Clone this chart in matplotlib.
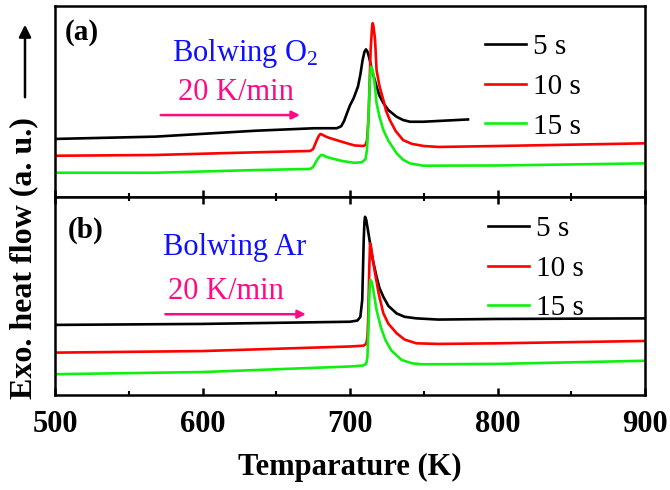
import matplotlib
matplotlib.use("Agg")
import matplotlib.pyplot as plt
from matplotlib.ticker import MultipleLocator

plt.rcParams['font.family'] = ['Liberation Serif', 'DejaVu Serif']
plt.rcParams['mathtext.fontset'] = 'custom'
plt.rcParams['mathtext.rm'] = 'Liberation Serif'
plt.rcParams['mathtext.it'] = 'Liberation Serif:italic'

# ---- DSC traces, blowing O2 (panel a) ----
o2_5s_T = [500, 568, 636, 676, 691, 694, 696, 698, 700, 702.5, 705.4, 707, 708.5, 709.8,
           710.8, 711.8, 713, 715, 716.5, 718, 720, 722.6, 726, 731.6, 736, 740.7, 749.6, 780]
o2_5s_y = [3.04, 3.16, 3.47, 3.60, 3.60, 3.70, 3.98, 4.40, 4.80, 5.18, 5.78, 6.40, 7.15, 7.60,
           7.73, 7.62, 7.30, 6.60, 6.20, 5.78, 5.30, 4.92, 4.55, 4.20, 4.03, 3.94, 3.94, 4.06]

o2_10s_T = [500, 568, 636, 673, 675, 677.5, 679, 680, 681.5, 684, 687, 695, 703, 709, 710.5,
            711.5, 712.5, 714, 715, 715.4, 715.9, 717, 718, 720, 722.6, 724.5, 727, 731, 736,
            742, 750, 760, 800, 900]
o2_10s_y = [2.16, 2.20, 2.34, 2.41, 2.51, 2.98, 3.22, 3.30, 3.25, 3.15, 3.07, 2.88, 2.70, 2.67,
            2.72, 2.95, 4.03, 7.70, 8.95, 9.10, 8.95, 8.22, 6.65, 5.80, 5.08, 4.50, 4.03, 3.45,
            2.98, 2.78, 2.67, 2.62, 2.67, 2.81]

o2_15s_T = [500, 568, 636, 673, 675, 678, 680, 680.8, 682, 684, 687, 695, 703, 708, 710.5,
            711.5, 712.5, 713.5, 714.2, 715, 716, 717, 718, 720, 722.6, 726, 731.6, 736,
            740.7, 749.6, 800, 900]
o2_15s_y = [1.27, 1.27, 1.41, 1.47, 1.57, 1.99, 2.17, 2.20, 2.18, 2.10, 2.03, 1.88, 1.79, 1.82,
            1.98, 2.46, 4.03, 6.20, 6.82, 6.70, 6.39, 5.70, 4.92, 4.20, 3.51, 2.95, 2.29, 1.95,
            1.76, 1.64, 1.65, 1.76]

# ---- DSC traces, blowing Ar (panel b) ----
ar_5s_T = [500, 600, 700, 705, 707, 708.3, 709.3, 709.8, 710.2, 711, 712, 713.6, 715.5, 718,
           720, 722.6, 726, 731.6, 737, 745, 760, 800, 900]
ar_5s_y = [3.54, 3.59, 3.70, 3.76, 3.94, 4.80, 7.83, 8.75, 9.00, 8.85, 8.40, 7.66, 6.80, 5.97,
           5.40, 4.96, 4.50, 4.12, 3.95, 3.87, 3.81, 3.84, 3.87]

ar_10s_T = [500, 600, 700, 709, 711, 711.8, 712.3, 713.1, 713.6, 714.2, 715, 717, 719.5, 722.6,
            726, 731.6, 737, 745, 760, 800, 900]
ar_10s_y = [2.14, 2.22, 2.45, 2.49, 2.58, 2.90, 3.79, 6.50, 7.66, 7.50, 7.07, 6.15, 5.10, 4.13,
            3.60, 3.12, 2.80, 2.61, 2.58, 2.61, 2.73]

ar_15s_T = [500, 600, 700, 709, 711, 711.8, 712.5, 713.2, 713.8, 714.5, 715.5, 718, 721, 724,
            728, 735, 742, 749, 800, 900]
ar_15s_y = [1.05, 1.16, 1.44, 1.49, 1.58, 1.90, 3.28, 5.20, 5.81, 5.75, 5.45, 4.29, 3.40, 2.78,
            2.25, 1.77, 1.60, 1.55, 1.57, 1.73]

labels = ['5 s', '10 s', '15 s']
colors = ['#000000', '#ff0000', '#10f010']
pink = '#ff0a84'
blue = '#1010ff'

fig = plt.figure(figsize=(6.7, 4.9), dpi=100)
left, right = 55 / 670, 645 / 670
ax_a = fig.add_axes([left, 1 - 197 / 490, right - left, 191 / 490])
ax_b = fig.add_axes([left, 1 - 395 / 490, right - left, 198 / 490])

panels = [
    (ax_a, [(o2_5s_T, o2_5s_y), (o2_10s_T, o2_10s_y), (o2_15s_T, o2_15s_y)]),
    (ax_b, [(ar_5s_T, ar_5s_y), (ar_10s_T, ar_10s_y), (ar_15s_T, ar_15s_y)]),
]

for ax, series in panels:
    for (T, y), lab, c in zip(series, labels, colors):
        ax.plot(T, y, color=c, lw=1.9, label=lab, solid_joinstyle='round')
    ax.set_xlim(500, 900)
    ax.set_ylim(0, 10)
    ax.set_yticks([])
    ax.xaxis.set_major_locator(MultipleLocator(100))
    ax.xaxis.set_minor_locator(MultipleLocator(50))
    ax.tick_params(axis='x', which='major', direction='in', length=5, width=1.8)
    ax.tick_params(axis='x', which='minor', direction='in', length=3, width=1.5)
    for sp in ax.spines.values():
        sp.set_linewidth(1.8)

ax_a.tick_params(axis='x', which='both', bottom=True, top=False, labelbottom=False)
ax_b.tick_params(axis='x', which='both', bottom=True, top=True, labelbottom=True)
for t in ax_b.get_xticklabels():
    t.set_fontweight('bold')
    t.set_fontsize(22)
ax_b.tick_params(axis='x', which='major', pad=11)
ax_b.set_xlabel('Temparature (K)', fontsize=22, fontweight='bold', labelpad=10)

# panel tags and annotations
ax_a.text(506.8, 8.22, '(a)', fontsize=21, fontweight='bold', va='baseline')
ax_b.text(508.8, 7.93, '(b)', fontsize=21, fontweight='bold', va='baseline')

ax_a.text(579, 7.12, 'Bolwing O$_2$', fontsize=22, color=blue, va='baseline')
ax_a.text(583.6, 5.08, '20 K/min', fontsize=22, color=pink, va='baseline')
ax_a.annotate('', xy=(668, 4.29), xytext=(569.8, 4.29),
              arrowprops=dict(arrowstyle='-|>', color=pink, lw=1.8, mutation_scale=12))

ax_b.text(573, 7.07, 'Bolwing Ar', fontsize=22, color=blue, va='baseline')
ax_b.text(576.6, 4.85, '20 K/min', fontsize=22, color=pink, va='baseline')
ax_b.annotate('', xy=(672, 4.08), xytext=(573, 4.08),
              arrowprops=dict(arrowstyle='-|>', color=pink, lw=1.8, mutation_scale=12))

leg_kw = dict(frameon=False, fontsize=21, handlelength=1.4, handletextpad=0.25,
              labelspacing=0.45, borderpad=0, borderaxespad=0, loc='upper left')
ax_a.legend(bbox_to_anchor=(0.729, 0.853), **leg_kw)
ax_b.legend(bbox_to_anchor=(0.734, 0.905), **leg_kw)

# y axis label with upward arrow
fig.text(24 / 670, 1 - 258 / 490, 'Exo. heat flow (a. u.)', rotation=90, fontsize=23,
         fontweight='bold', ha='center', va='center')
fig.add_artist(matplotlib.patches.FancyArrowPatch(
    (25 / 670, 1 - 100 / 490), (25 / 670, 1 - 22 / 490), transform=fig.transFigure,
    arrowstyle='-|>', mutation_scale=18, lw=1.8, color='k'))

fig.savefig('out.png', dpi=100)
